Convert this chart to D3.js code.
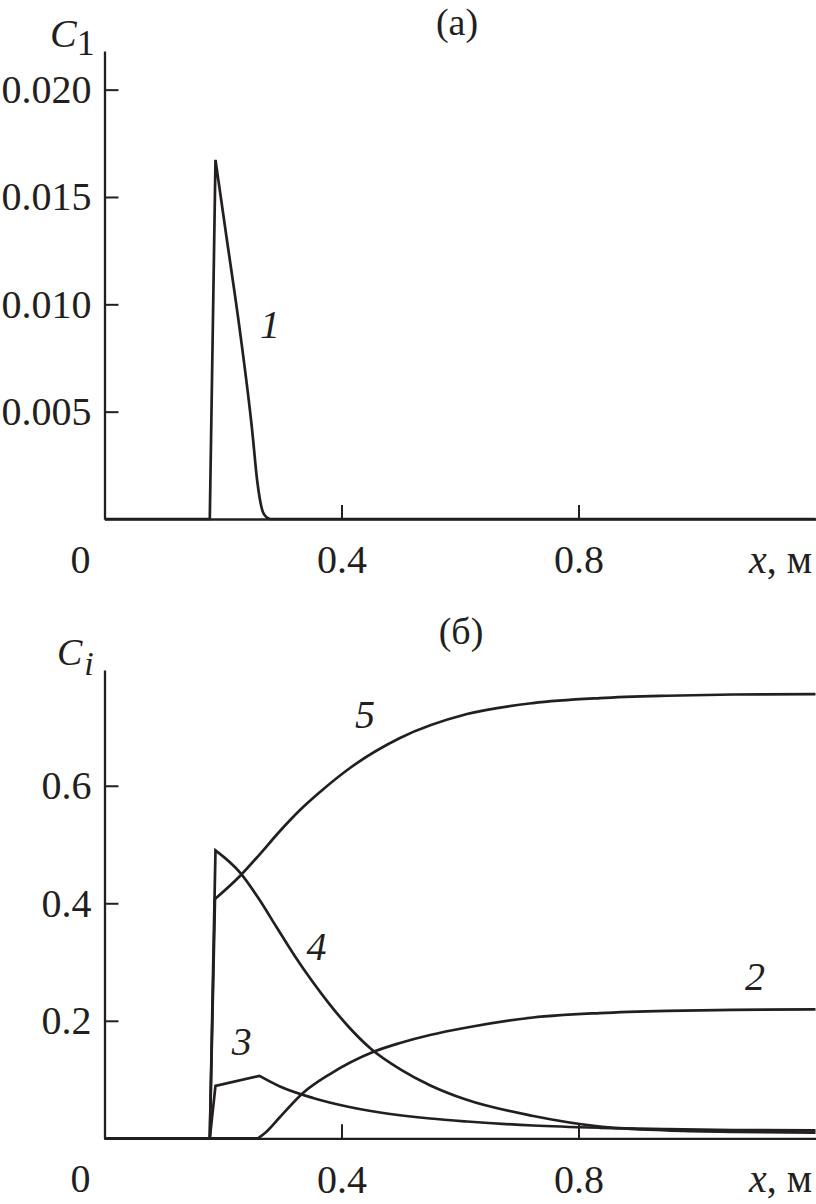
<!DOCTYPE html>
<html>
<head>
<meta charset="utf-8">
<script src="https://cdn.jsdelivr.net/npm/d3@7"></script>
<style>
  html, body { margin: 0; padding: 0; background: #fff; }
  svg { display: block; }
  text { font-family: "Liberation Serif", "Times New Roman", serif; fill: #231f20; }
</style>
</head>
<body>
<svg id="chart" width="816" height="1204"></svg>
<script>
// ---- data ----
const xTicks = [0.4, 0.8];
const aTicks = [0.005, 0.010, 0.015, 0.020];
const bTicks = [0.2, 0.4, 0.6];

// panel (а): C1
const c1X = [0, 0.1777, 0.1873, 0.2042, 0.2284, 0.2493, 0.2577, 0.2689, 0.2802, 1.2];
const c1Y = [0, 0, 0.01673, 0.01346, 0.00879, 0.00411, 0.00178, 0.00023, 0, 0];
const c1Breaks = [1, 2];

// panel (б): C2..C5
const c2X = [0, 0.2591, 0.2709, 0.2962, 0.3350, 0.3806, 0.4532, 0.4987, 0.5494, 0.6118, 0.7232, 0.8363, 0.9494, 1.0608, 1.2];
const c2Y = [0, 0, 0.009, 0.0362, 0.0771, 0.1094, 0.1469, 0.1622, 0.1758, 0.1886, 0.2056, 0.2132, 0.2170, 0.2187, 0.2195];
const c2Breaks = [1];

const c3X = [0, 0.1777, 0.1873, 0.2616, 0.2962, 0.3519, 0.4093, 0.4650, 0.5494, 0.6118, 0.7232, 0.8363, 0.9494, 1.0608, 1.2];
const c3Y = [0, 0, 0.0893, 0.1062, 0.0881, 0.0686, 0.0541, 0.0439, 0.0337, 0.0286, 0.0218, 0.0179, 0.0155, 0.0141, 0.0136];
const c3Breaks = [1, 2, 3];

const c4X = [0, 0.1777, 0.1873, 0.2295, 0.2616, 0.29, 0.32, 0.35, 0.38, 0.41, 0.45, 0.50, 0.55, 0.61, 0.7237, 0.8363, 0.9494, 1.0608, 1.2];
const c4Y = [0, 0, 0.490, 0.4514, 0.406, 0.360, 0.312, 0.268, 0.228, 0.192, 0.152, 0.117, 0.090, 0.066, 0.038, 0.020, 0.0135, 0.011, 0.0095];
const c4Breaks = [1, 2];

const c5X = [0, 0.1777, 0.1865, 0.2287, 0.2624, 0.2962, 0.3300, 0.3637, 0.4143, 0.4987, 0.6118, 0.7232, 0.8363, 0.9494, 1.0608, 1.2];
const c5Y = [0, 0, 0.4073, 0.4464, 0.4838, 0.5230, 0.5587, 0.5893, 0.6302, 0.6812, 0.7220, 0.7407, 0.7492, 0.7532, 0.7553, 0.7561];
const c5Breaks = [1, 2];

// curve number labels (data coordinates)
const labelsA = [{t: "1", x: 0.2793, y: 0.00843}];
const labelsB = [
  {t: "5", x: 0.4397, y: 0.698},
  {t: "4", x: 0.3580, y: 0.3034},
  {t: "3", x: 0.2316, y: 0.1418},
  {t: "2", x: 1.0979, y: 0.2524}
];

// ---- drawing ----
const INK = "#231f20";
const svg = d3.select("#chart");
svg.append("rect").attr("width", 816).attr("height", 1204).attr("fill", "#fff");

const x = d3.scaleLinear().domain([0, 1.2]).range([104.5, 815.5]);
const yA = d3.scaleLinear().domain([0, 0.0218]).range([519, 51]);
const yB = d3.scaleLinear().domain([0, 0.797]).range([1138.3, 670]);

function styleAxis(g) {
  g.attr("font-family", null).attr("font-size", null);
  g.select(".domain").attr("stroke", INK).attr("stroke-width", 2.3);
  g.selectAll(".tick line").attr("stroke", INK).attr("stroke-width", 2);
  g.selectAll(".tick text").attr("fill", INK).style("font-size", "40px");
}

function drawPanel(y, yTicks, yFmt) {
  const gx = svg.append("g").attr("transform", `translate(0,${y(0)})`)
    .call(d3.axisBottom(x).tickValues(xTicks).tickSize(-14).tickSizeOuter(0)
      .tickPadding(26).tickFormat(d3.format(".1f")));
  styleAxis(gx);
  const gy = svg.append("g").attr("transform", `translate(${x(0)},0)`)
    .call(d3.axisLeft(y).tickValues(yTicks).tickSize(-14).tickSizeOuter(0)
      .tickPadding(13).tickFormat(yFmt));
  styleAxis(gy);
  // origin label "0"
  svg.append("text").attr("x", x(0) - 24).attr("y", y(0) + 54)
    .attr("text-anchor", "middle").style("font-size", "40px").text("0");
  // axis title x, м
  const t = svg.append("text").attr("x", 812).attr("y", y(0) + 54)
    .attr("text-anchor", "end").style("font-size", "40px");
  t.append("tspan").style("font-style", "italic").text("x");
  t.append("tspan").text(", м");
}

function drawSeries(y, xs, ys, breaks) {
  const pts = xs.map((d, i) => [d, ys[i]]);
  const cuts = [0, ...breaks, pts.length - 1];
  const line = d3.line().x(d => x(d[0])).y(d => y(d[1])).curve(d3.curveMonotoneX);
  let path = "";
  for (let i = 0; i < cuts.length - 1; i++) {
    const seg = line(pts.slice(cuts[i], cuts[i + 1] + 1));
    path += i === 0 ? seg : seg.replace(/^M[^A-Za-z]*/, "");
  }
  svg.append("path").attr("d", path).attr("fill", "none")
    .attr("stroke", INK).attr("stroke-width", 2.7)
    .attr("stroke-linejoin", "miter").attr("stroke-miterlimit", 6)
    .attr("stroke-linecap", "butt");
}

function drawLabels(y, labels) {
  svg.selectAll(null).data(labels).enter().append("text")
    .attr("x", d => x(d.x)).attr("y", d => y(d.y))
    .attr("text-anchor", "middle").style("font-size", "40px").style("font-style", "italic")
    .text(d => d.t);
}

// Panel (а)
drawPanel(yA, aTicks, d3.format(".3f"));
drawSeries(yA, c1X, c1Y, c1Breaks);
drawLabels(yA, labelsA);
svg.append("text").attr("x", 457).attr("y", 35).attr("text-anchor", "middle")
  .style("font-size", "38px").text("(а)");
const cA = svg.append("text").attr("x", 50).attr("y", 47).style("font-size", "40px");
cA.append("tspan").style("font-style", "italic").text("C");
cA.append("tspan").attr("dy", 8).style("font-size", "36px").text("1");

// Panel (б)
drawPanel(yB, bTicks, d3.format(".1f"));
drawSeries(yB, c2X, c2Y, c2Breaks);
drawSeries(yB, c3X, c3Y, c3Breaks);
drawSeries(yB, c4X, c4Y, c4Breaks);
drawSeries(yB, c5X, c5Y, c5Breaks);
drawLabels(yB, labelsB);
svg.append("text").attr("x", 461).attr("y", 644).attr("text-anchor", "middle")
  .style("font-size", "38px").text("(б)");
const cB = svg.append("text").attr("x", 57).attr("y", 665).style("font-size", "38px").style("font-style", "italic");
cB.append("tspan").text("C");
cB.append("tspan").attr("dy", 10).attr("dx", 2).style("font-size", "34px").text("i");
</script>
</body>
</html>
